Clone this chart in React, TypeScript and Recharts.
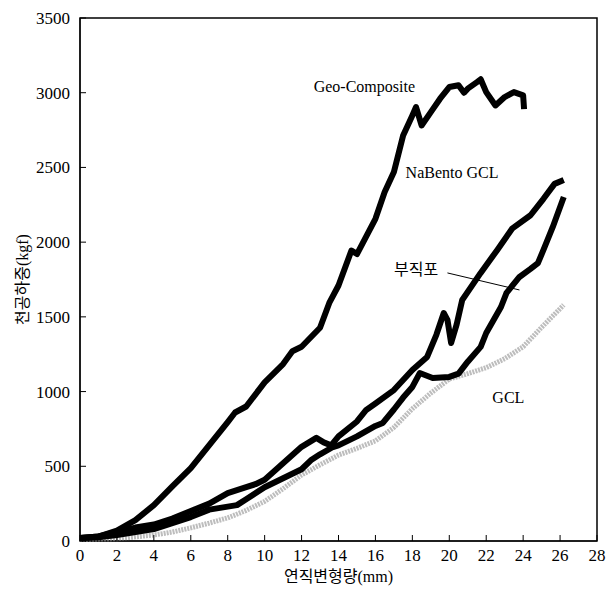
import {
  LineChart, Line, XAxis, YAxis, ReferenceArea, ReferenceDot, ReferenceLine, Label
} from 'recharts';

const xTicks = [0, 2, 4, 6, 8, 10, 12, 14, 16, 18, 20, 22, 24, 26, 28];
const yTicks = [0, 500, 1000, 1500, 2000, 2500, 3000, 3500];

// Geo-Composite (top curve)
const geoX = [0, 1, 2, 3, 4, 5, 6, 7, 8, 8.4, 9, 10, 11, 11.5, 12, 13, 13.5, 14, 14.7, 15, 16, 16.5, 17, 17.5, 18, 18.2, 18.5, 19, 19.5, 20, 20.5, 20.8, 21, 21.5, 21.7, 22, 22.5, 23, 23.5, 24, 24.05];
const geoY = [20, 30, 70, 140, 240, 365, 487, 642, 796, 860, 900, 1062, 1184, 1270, 1300, 1427, 1593, 1710, 1944, 1920, 2156, 2335, 2469, 2714, 2848, 2904, 2781, 2870, 2960, 3038, 3050, 3000, 3027, 3071, 3090, 3004, 2915, 2971, 3004, 2982, 2890];

// NaBento GCL (middle curve with the spike)
const naX = [0, 1, 2, 3, 4, 5, 6, 7, 8, 8.5, 9, 9.5, 10, 11, 12, 12.8, 13.2, 13.6, 14, 15, 15.5, 16, 17, 18, 18.8, 19.3, 19.7, 19.9, 20.1, 20.4, 20.7, 21.7, 22.6, 23.4, 24.4, 25.1, 25.7, 26.2];
const naY = [20, 30, 60, 90, 110, 150, 200, 250, 320, 340, 360, 380, 410, 520, 630, 690, 660, 640, 700, 800, 877, 920, 1010, 1145, 1232, 1380, 1526, 1480, 1325, 1450, 1613, 1794, 1948, 2090, 2180, 2290, 2390, 2416];

// 부직포 (lower black curve)
const nonwovenX = [0, 1, 2, 3, 4, 5, 6, 7, 8, 8.5, 9, 10, 11, 12, 12.5, 13, 13.7, 14, 15, 16, 16.4, 17, 17.5, 18, 18.4, 19.1, 20, 20.5, 21, 21.7, 22, 22.8, 23.1, 23.8, 24.4, 24.8, 25.1, 25.6, 26.2];
const nonwovenY = [20, 25, 40, 60, 80, 120, 160, 210, 230, 240, 280, 360, 420, 480, 540, 580, 629, 640, 700, 770, 790, 880, 960, 1031, 1124, 1091, 1098, 1120, 1200, 1299, 1392, 1566, 1660, 1767, 1821, 1860, 1948, 2100, 2302];

// GCL (grey curve)
const gclX = [0, 2, 4, 5, 6, 7, 8, 9, 10, 11, 12, 13, 14, 15, 16, 17, 18, 19, 20, 21, 22, 23, 24, 25, 26.2];
const gclY = [10, 15, 40, 60, 88, 120, 155, 205, 265, 350, 442, 510, 575, 620, 670, 760, 885, 990, 1084, 1120, 1160, 1220, 1300, 1430, 1580];

const toPoints = (xs: number[], ys: number[]) => xs.map((x, i) => ({ x, y: ys[i] }));

const font = '"Liberation Serif", "Noto Sans CJK KR", serif';

export default function App() {
  return (
    <LineChart
      width={598}
      height={578}
      margin={{ top: 10, right: 9, left: 0, bottom: 0 }}
      style={{ fontFamily: font }}
    >
      <XAxis
        type="number"
        dataKey="x"
        domain={[0, 28]}
        ticks={xTicks}
        allowDataOverflow
        height={45}
        stroke="#000"
        tickSize={-6}
        tickMargin={14}
        tick={{ fill: '#000', fontSize: 17, fontFamily: font }}
      >
        <Label value="연직변형량(mm)" position="insideBottom" offset={4} fill="#000" fontSize={16} fontFamily={font} />
      </XAxis>
      <YAxis
        type="number"
        dataKey="y"
        domain={[0, 3500]}
        ticks={yTicks}
        width={72}
        stroke="#000"
        tickSize={-6}
        tickMargin={16}
        tick={{ fill: '#000', fontSize: 17, fontFamily: font }}
      >
        <Label value="천공하중(kgf)" angle={-90} position="insideLeft" offset={14} fill="#000" fontSize={16} fontFamily={font} style={{ textAnchor: 'middle' }} />
      </YAxis>
      <ReferenceArea x1={0} x2={28} y1={0} y2={3500} fill="none" stroke="#000" strokeWidth={1.5} />

      <Line data={toPoints(gclX, gclY)} dataKey="y" name="GCL" stroke="#bdbdbd" strokeWidth={5} strokeDasharray="2 1" dot={false} isAnimationActive={false} />
      <Line data={toPoints(nonwovenX, nonwovenY)} dataKey="y" name="부직포" stroke="#000" strokeWidth={6} strokeLinejoin="round" dot={false} isAnimationActive={false} />
      <Line data={toPoints(naX, naY)} dataKey="y" name="NaBento GCL" stroke="#000" strokeWidth={6} strokeLinejoin="round" dot={false} isAnimationActive={false} />
      <Line data={toPoints(geoX, geoY)} dataKey="y" name="Geo-Composite" stroke="#000" strokeWidth={6} strokeLinejoin="round" dot={false} isAnimationActive={false} />

      <ReferenceLine segment={[{ x: 19.9, y: 1794 }, { x: 23.8, y: 1680 }]} stroke="#000" strokeWidth={1} />

      <ReferenceDot x={15.4} y={3045} r={0} fill="none" stroke="none"
        label={{ value: 'Geo-Composite', position: 'center', fill: '#000', fontSize: 16, fontFamily: font }} />
      <ReferenceDot x={20.15} y={2470} r={0} fill="none" stroke="none"
        label={{ value: 'NaBento GCL', position: 'center', fill: '#000', fontSize: 16, fontFamily: font }} />
      <ReferenceDot x={18.2} y={1820} r={0} fill="none" stroke="none"
        label={{ value: '부직포', position: 'center', fill: '#000', fontSize: 16, fontFamily: font }} />
      <ReferenceDot x={23.2} y={964} r={0} fill="none" stroke="none"
        label={{ value: 'GCL', position: 'center', fill: '#000', fontSize: 16, fontFamily: font }} />
    </LineChart>
  );
}
